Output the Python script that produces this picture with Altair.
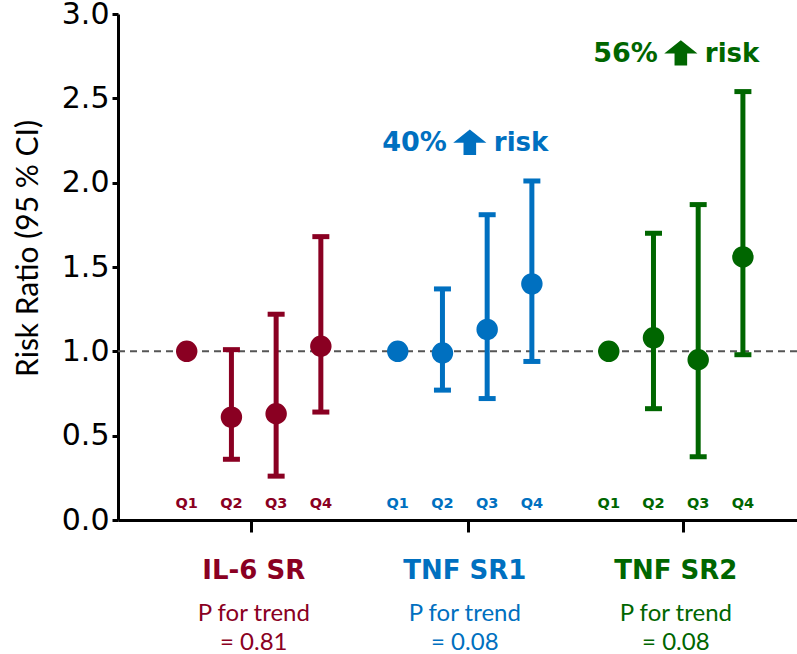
import altair as alt
import pandas as pd

# ---------------- data ----------------
groups = ["IL-6 SR", "TNF SR1", "TNF SR2"]
quartiles = ["Q1", "Q2", "Q3", "Q4"]
colors = ["#8A0022", "#0070C0", "#006600"]

rr_il6 = [1.00, 0.61, 0.63, 1.03]
lo_il6 = [None, 0.36, 0.26, 0.64]
hi_il6 = [None, 1.01, 1.22, 1.68]

rr_tnf1 = [1.00, 0.99, 1.13, 1.40]
lo_tnf1 = [None, 0.77, 0.72, 0.94]
hi_tnf1 = [None, 1.37, 1.81, 2.01]

rr_tnf2 = [1.00, 1.08, 0.95, 1.56]
lo_tnf2 = [None, 0.66, 0.375, 0.98]
hi_tnf2 = [None, 1.70, 1.87, 2.54]

p_trend = ["= 0.81", "= 0.08", "= 0.08"]
risk_increase = ["", "40%", "56%"]
y_ticks = [0.0, 0.5, 1.0, 1.5, 2.0, 2.5, 3.0]
x_group_ticks = [2.43, 7.29, 12.10]

# ---------------- table ----------------
GROUP_STEP = 4.72
series = [(rr_il6, lo_il6, hi_il6), (rr_tnf1, lo_tnf1, hi_tnf1), (rr_tnf2, lo_tnf2, hi_tnf2)]
rows = []
for g, (name, (rr, lo, hi)) in enumerate(zip(groups, series)):
    for q, qname in enumerate(quartiles):
        rows.append({"group": name, "quartile": qname, "x": g * GROUP_STEP + q + 1,
                     "rr": rr[q], "lo": lo[q], "hi": hi[q]})
df = pd.DataFrame(rows)
ci = df.dropna(subset=["lo"])

grp = pd.DataFrame({"group": groups, "p": p_trend, "pct": risk_increase,
                    "xc": [g * GROUP_STEP + 2.5 for g in range(len(groups))],
                    "top": [hi_il6[3], hi_tnf1[3], hi_tnf2[3]]})
grp["annot_y"] = grp["top"] + 0.175
ann = grp[grp["pct"] != ""]

BOLD = "DejaVu Sans"
SANS = "Lato"
xscale = alt.Scale(domain=[-0.537, 14.65], nice=False, zero=False)
yscale = alt.Scale(domain=[0, 3], nice=False)
cscale = alt.Scale(domain=groups, range=colors)

X = alt.X("x:Q", scale=xscale,
          axis=alt.Axis(values=x_group_ticks, labels=False, title=None, grid=False,
                        tickSize=12, tickWidth=3, tickColor="black",
                        domainWidth=3, domainColor="black"))
Y = alt.Y("rr:Q", scale=yscale,
          axis=alt.Axis(values=y_ticks, format=".1f", grid=False,
                        labelFontSize=30, labelFont="DejaVu Sans", labelColor="black", labelPadding=3,
                        tickSize=6, tickWidth=3, tickColor="black",
                        domainWidth=3, domainColor="black",
                        title="Risk Ratio (95 % CI)", titleFont=SANS, titleFontSize=30,
                        titleFontWeight="normal", titleColor="black",
                        titleAngle=270, titleX=-90, titleY=234,
                        titleAlign="center", titleBaseline="middle"))
C = alt.Color("group:N", scale=cscale, legend=None)

base = alt.Chart(df)

ref = alt.Chart(pd.DataFrame({"ref": [1.0]})).mark_rule(
    color="#555555", strokeWidth=2, strokeDash=[7, 5]
).encode(y=alt.Y("ref:Q", scale=yscale))

bars = alt.Chart(ci).mark_rule(strokeWidth=5).encode(
    x=alt.X("x:Q", scale=xscale), y=alt.Y("lo:Q", scale=yscale), y2="hi:Q", color=C)

cap_lo = alt.Chart(ci).mark_tick(orient="horizontal", size=17, thickness=5, opacity=1).encode(
    x=alt.X("x:Q", scale=xscale), y=alt.Y("lo:Q", scale=yscale), color=C)
cap_hi = alt.Chart(ci).mark_tick(orient="horizontal", size=17, thickness=5, opacity=1).encode(
    x=alt.X("x:Q", scale=xscale), y=alt.Y("hi:Q", scale=yscale), color=C)

points = base.mark_circle(size=460, opacity=1).encode(x=X, y=Y, color=C)

qlabels = base.mark_text(font=BOLD, fontSize=14.5, fontWeight="bold", baseline="alphabetic").encode(
    x=alt.X("x:Q", scale=xscale), y=alt.datum(0.07), text="quartile:N", color=C)

# annotation "NN% <arrow> risk"
ann_pct = alt.Chart(ann).mark_text(font=BOLD, fontSize=27, fontWeight="bold", baseline="alphabetic",
                                   align="right", dx=-18).encode(
    x=alt.X("xc:Q", scale=xscale), y=alt.Y("annot_y:Q", scale=yscale), text="pct:N", color=C)
ann_risk = alt.Chart(ann).mark_text(font=BOLD, fontSize=26, fontWeight="bold", baseline="alphabetic",
                                    align="left", dx=29, text="risk").encode(
    x=alt.X("xc:Q", scale=xscale), y=alt.Y("annot_y:Q", scale=yscale), color=C)
ARROW = "M0,-0.78 L1,0.02 L0.38,0.02 L0.38,0.75 L-0.38,0.75 L-0.38,0.02 L-1,0.02 Z"
ann_arrow = alt.Chart(ann).mark_point(shape=ARROW, size=1100, filled=True, opacity=1,
                                      xOffset=5, yOffset=-9).encode(
    x=alt.X("xc:Q", scale=xscale), y=alt.Y("annot_y:Q", scale=yscale), color=C)

gname = alt.Chart(grp).mark_text(font=BOLD, fontSize=26, fontWeight="bold", baseline="alphabetic").encode(
    x=alt.X("xc:Q", scale=xscale), y=alt.value(565), text="group:N", color=C)
ptxt = alt.Chart(grp).mark_text(font=SANS, fontSize=24, baseline="alphabetic", text="P for trend").encode(
    x=alt.X("xc:Q", scale=xscale), y=alt.value(607), color=C)
pval = alt.Chart(grp).mark_text(font=SANS, fontSize=24, baseline="alphabetic").encode(
    x=alt.X("xc:Q", scale=xscale), y=alt.value(636), text="p:N", color=C)

chart = alt.layer(ref, bars, cap_lo, cap_hi, points, qlabels,
                  ann_pct, ann_risk, ann_arrow, gname, ptxt, pval).properties(
    width=679, height=506,
    autosize=alt.AutoSizeParams(type="none"),
    padding={"left": 118, "top": 14, "right": 0, "bottom": 134},
    background="white",
).configure_view(stroke=None)

chart.save("out.html", embed_options={"renderer": "svg", "actions": False})
